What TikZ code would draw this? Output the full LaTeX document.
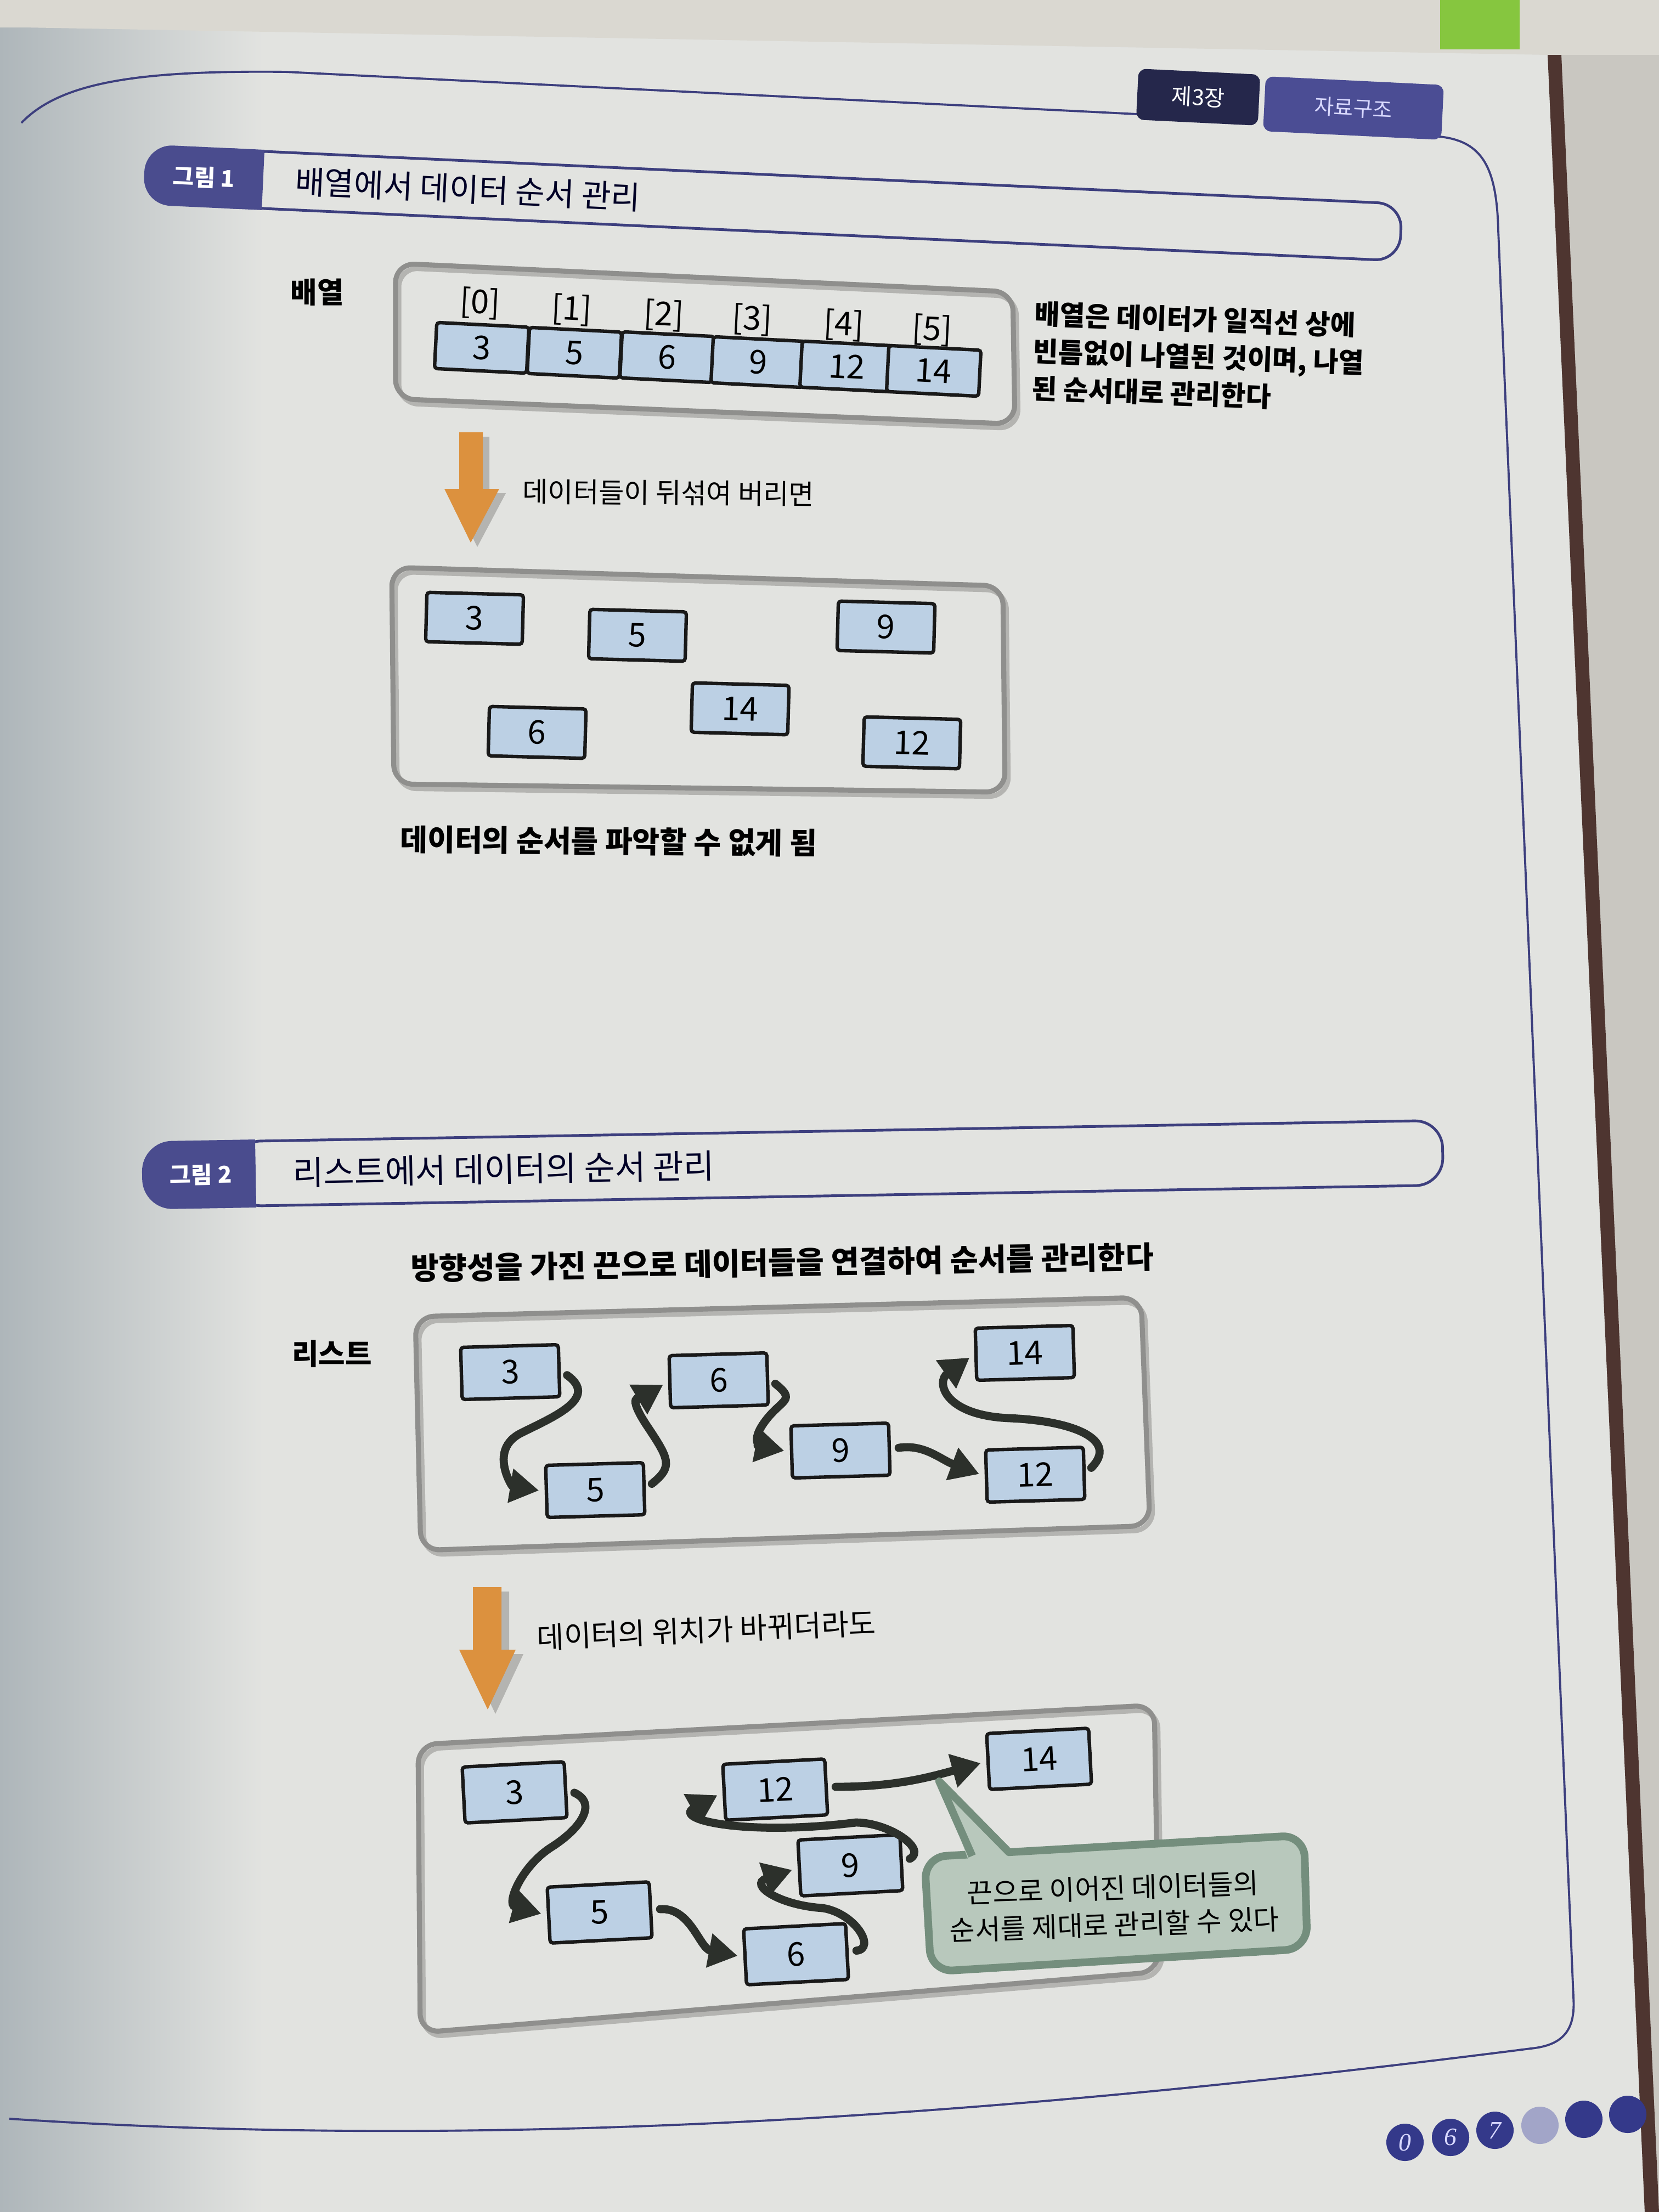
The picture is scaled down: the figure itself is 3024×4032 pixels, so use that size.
\documentclass[tikz,border=0pt]{standalone}
\usepackage{fontspec}
\setmainfont{Noto Sans CJK KR}
\newfontfamily\pagenumfont{Liberation Serif}
\usetikzlibrary{arrows.meta}

\definecolor{pagebg}{HTML}{E2E3E0}
\definecolor{topbg}{HTML}{DAD8D1}
\definecolor{outside}{HTML}{C9C7C1}
\definecolor{bookedge}{HTML}{4E3530}
\definecolor{bindgray}{HTML}{AEB6BA}
\definecolor{stickygreen}{HTML}{86C63F}
\definecolor{navyline}{HTML}{3D3F7E}
\definecolor{pillblue}{HTML}{4A4C8E}
\definecolor{tabdark}{HTML}{25274B}
\definecolor{tabblue}{HTML}{4B4D94}
\definecolor{cellblue}{HTML}{BCD0E4}
\definecolor{boxgray}{HTML}{8F8F8D}
\definecolor{boxshade}{HTML}{B4B4B1}
\definecolor{orangearrow}{HTML}{DC913E}
\definecolor{ropedark}{HTML}{2C302B}
\definecolor{notefill}{HTML}{B8C8BC}
\definecolor{noteline}{HTML}{748E7D}
\definecolor{dotblue}{HTML}{34398A}
\definecolor{dotpale}{HTML}{A2A5C8}

\begin{document}
\begin{tikzpicture}[x=0.01cm, y=-0.01cm,
    cell/.style={draw=black!90, line width=1.8pt, fill=cellblue, rounded corners=1.5pt,
      inner sep=0pt, minimum width=1.68cm, minimum height=0.84cm,
      font=\fontsize{17}{17}\selectfont},
    datum/.style={cell, minimum width=1.76cm, minimum height=0.9cm},
    outerbox/.style={draw=boxgray, line width=2.6pt, rounded corners=0.35cm},
    outershade/.style={draw=boxshade, line width=2.6pt, rounded corners=0.35cm},
    rope/.style={draw=ropedark, line width=4.2pt, line cap=round,
      -{Triangle[length=15pt,width=17pt]}, shorten <=4pt, shorten >=3pt},
    sidetag/.style={inner sep=0pt, font=\fontsize{15}{17}\selectfont\bfseries},
    remark/.style={inner sep=0pt, font=\fontsize{14.3}{18.2}\selectfont},
    idx/.style={inner sep=0pt, font=\fontsize{17}{17}\selectfont},
    bartitle/.style={inner sep=0pt, anchor=west, text=black!85!blue,
      font=\fontsize{16.6}{17}\selectfont},
    pilltext/.style={inner sep=0pt, text=white, font=\fontsize{12}{12}\selectfont\bfseries},
  ]
\useasboundingbox (0,0) rectangle (3024,4032);
\fill[pagebg] (0,0) rectangle (3024,4032);
\shade[left color=bindgray, right color=pagebg] (0,0) rectangle (480,4032);
\fill[topbg] (0,0) -- (3024,0) -- (3024,100) -- (2821,100) -- (43,50) -- (0,50) -- cycle;
\fill[stickygreen] (2625,0) rectangle (2770,90);
\fill[outside] (2821,100) -- (3024,100) -- (3024,4032) -- (2998,4032) -- cycle;
\fill[bookedge] (2821,100) -- (2846,100) -- (3024,4032) -- (2998,4032) -- cycle;

\draw[navyline, line width=1.1pt] (39,224) .. controls (110,150) and (250,128) .. (521,131) -- (2073,208);
\draw[navyline, line width=1.1pt] (2560,244) -- (2610,248) .. controls (2700,252) and (2728,300) .. (2731,420)
  -- (2868,3640) .. controls (2872,3700) and (2850,3728) .. (2790,3734)
  .. controls (1800,3860) and (900,3920) .. (17,3862);
\node[fill=tabdark, rounded corners=4pt, rotate=-2.8, minimum width=2.22cm, minimum height=0.93cm,
  text=white, font=\fontsize{11.5}{12}\selectfont] (chap) at (2184,177) {제3장};
\node[fill=tabblue, rounded corners=4pt, rotate=-2.8, minimum width=3.25cm, minimum height=1cm,
  text=white!85!blue, font=\fontsize{11}{11}\selectfont] (topic) at (2467,197) {자료구조};

\begin{scope}[shift={(482,276)}, rotate=-2.64, transform shape]
  \draw[navyline, line width=1.4pt, rounded corners=0.45cm] (-40,0) rectangle (2076,104);
  \fill[pillblue, rounded corners=0.5cm] (-217,-3) rectangle (0,107);
  \fill[pillblue] (-60,-3) rectangle (0,107);
  \node[pilltext] (fig1) at (-108,52) {그림 1};
  \node[bartitle] (title1) at (58,52) {배열에서 데이터 순서 관리};
\end{scope}

\node[sidetag] (arrtag) at (578,533) {배열};
\draw[outershade, shift={(6,8)}] (721,480) -- (1846,532) -- (1850,773) -- (721,727) -- cycle;
\draw[outerbox] (721,480) -- (1846,532) -- (1850,773) -- (721,727) -- cycle;
\node[idx, rotate=-2.9] (i0) at (875,553) {[0]};
\node[idx, rotate=-2.9] (i1) at (1042,565) {[1]};
\node[idx, rotate=-2.9] (i2) at (1210,575) {[2]};
\node[idx, rotate=-2.9] (i3) at (1371,583) {[3]};
\node[idx, rotate=-2.9] (i4) at (1538,593) {[4]};
\node[idx, rotate=-2.9] (i5) at (1699,602) {[5]};
\node[cell, rotate=-2.9] (c0) at (878,634) {3};
\node[cell, rotate=-2.9] (c1) at (1047,643) {5};
\node[cell, rotate=-2.9] (c2) at (1216,651) {6};
\node[cell, rotate=-2.9] (c3) at (1382,660) {9};
\node[cell, rotate=-2.9] (c4) at (1544,668) {12};
\node[cell, rotate=-2.9] (c5) at (1702,676) {14};
\node[anchor=north west, align=left, inner sep=0pt, rotate=-2,
  font=\fontsize{14.2}{19.3}\selectfont\bfseries] (arrnote) at (1886,548)
  {배열은 데이터가 일직선 상에\\빈틈없이 나열된 것이며, 나열\\된 순서대로 관리한다};

\fill[boxshade, shift={(12,8)}] (837,788) -- (880,788) -- (880,891) -- (910,891) -- (858,989) -- (810,891) -- (837,891) -- cycle;
\fill[orangearrow] (837,788) -- (880,788) -- (880,891) -- (910,891) -- (858,989) -- (810,891) -- (837,891) -- cycle;
\node[remark, anchor=west, rotate=-0.5] (mixup) at (952,896) {데이터들이 뒤섞여 버리면};

\draw[outershade, shift={(6,8)}] (714,1034) -- (1828,1068) -- (1832,1444) -- (718,1429) -- cycle;
\draw[outerbox] (714,1034) -- (1828,1068) -- (1832,1444) -- (718,1429) -- cycle;
\node[datum, rotate=-1.5] (s3) at (865,1127) {3};
\node[datum, rotate=-1.5] (s5) at (1162,1158) {5};
\node[datum, rotate=-1.5] (s9) at (1615,1143) {9};
\node[datum, rotate=-1.5] (s14) at (1349,1292) {14};
\node[datum, rotate=-1.5] (s6) at (979,1335) {6};
\node[datum, rotate=-1.5] (s12) at (1662,1354) {12};
\node[anchor=west, inner sep=0pt, rotate=-0.5, font=\fontsize{15.4}{16}\selectfont\bfseries] (lost)
  at (729,1530) {데이터의 순서를 파악할 수 없게 됨};

\begin{scope}[shift={(465,2080)}, rotate=1.0, transform shape]
  \draw[navyline, line width=1.4pt, rounded corners=0.5cm] (-40,0) rectangle (2164,118);
  \fill[pillblue, rounded corners=0.55cm] (-207,-3) rectangle (0,121);
  \fill[pillblue] (-60,-3) rectangle (0,121);
  \node[pilltext] (fig2) at (-100,59) {그림 2};
  \node[bartitle, font=\fontsize{17.3}{18}\selectfont] (title2) at (67,59) {리스트에서 데이터의 순서 관리};
\end{scope}

\node[anchor=west, inner sep=0pt, rotate=0.9, font=\fontsize{15.8}{17}\selectfont\bfseries] (howto)
  at (748,2312) {방향성을 가진 끈으로 데이터들을 연결하여 순서를 관리한다};
\node[sidetag] (listtag) at (605,2468) {리스트};
\draw[outershade, shift={(6,8)}] (757,2400) -- (2080,2365) -- (2096,2781) -- (767,2826) -- cycle;
\draw[outerbox] (757,2400) -- (2080,2365) -- (2096,2781) -- (767,2826) -- cycle;
\node[datum, rotate=1.6, minimum width=1.78cm, minimum height=0.95cm] (p3) at (930,2501) {3};
\node[datum, rotate=1.6, minimum width=1.78cm, minimum height=0.95cm] (p5) at (1085,2716) {5};
\node[datum, rotate=1.6, minimum width=1.78cm, minimum height=0.95cm] (p6) at (1310,2516) {6};
\node[datum, rotate=1.6, minimum width=1.78cm, minimum height=0.95cm] (p9) at (1532,2644) {9};
\node[datum, rotate=1.6, minimum width=1.78cm, minimum height=0.95cm] (p12) at (1887,2688) {12};
\node[datum, rotate=1.6, minimum width=1.78cm, minimum height=0.95cm] (p14) at (1868,2466) {14};
\draw[rope] (p3.east) .. controls +(70,50) and +(60,-30) .. (950,2612) .. controls +(-60,30) and +(-60,-10) .. (p5.west);
\draw[rope] (p5.east) .. controls +(50,-40) and +(40,60) .. (1180,2600) .. controls +(-40,-60) and +(-50,30) .. (p6.west);
\draw[rope] (p6.east) .. controls +(50,40) and +(30,-40) .. (1395,2590) .. controls +(-30,40) and +(-50,-10) .. (p9.west);
\draw[rope] (p9.east) .. controls +(60,-10) and +(-80,-30) .. (p12.west);
\draw[rope] (p12.east) .. controls +(60,-60) and +(120,5) .. (1840,2585) .. controls +(-120,-5) and +(-70,50) .. (p14.west);

\fill[boxshade, shift={(14,8)}] (862,2893) -- (914,2893) -- (914,3007) -- (940,3007) -- (889,3116) -- (837,3007) -- (862,3007) -- cycle;
\fill[orangearrow] (862,2893) -- (914,2893) -- (914,3007) -- (940,3007) -- (889,3116) -- (837,3007) -- (862,3007) -- cycle;
\node[remark, anchor=west, rotate=2.5, font=\fontsize{15.3}{17}\selectfont] (moved) at (978,2985) {데이터의 위치가 바뀌더라도};

\draw[outershade, shift={(6,8)}] (762,3180) -- (2104,3108) -- (2112,3594) -- (766,3705) -- cycle;
\draw[outerbox] (762,3180) -- (2104,3108) -- (2112,3594) -- (766,3705) -- cycle;
\node[datum, rotate=3, minimum width=1.86cm, minimum height=1.02cm] (q3) at (938,3267) {3};
\node[datum, rotate=3, minimum width=1.86cm, minimum height=1.02cm] (q5) at (1093,3486) {5};
\node[datum, rotate=3, minimum width=1.86cm, minimum height=1.02cm] (q6) at (1451,3562) {6};
\node[datum, rotate=3, minimum width=1.86cm, minimum height=1.02cm] (q9) at (1550,3400) {9};
\node[datum, rotate=3, minimum width=1.86cm, minimum height=1.02cm] (q12) at (1413,3262) {12};
\node[datum, rotate=3, minimum width=1.86cm, minimum height=1.02cm] (q14) at (1894,3206) {14};
\draw[rope] (q3.east) .. controls +(55,25) and +(55,-35) .. (1005,3367) .. controls +(-55,35) and +(-75,-20) .. (q5.west);
\draw[rope] (q5.east) .. controls +(70,-5) and +(-80,-15) .. (q6.west);
\draw[rope] (q6.east) .. controls +(50,-5) and +(60,10) .. (1500,3478) .. controls +(-80,-5) and +(-90,30) .. (q9.west);
\draw[rope] (q9.east) .. controls +(45,-25) and +(60,0) .. (1560,3322) .. controls +(-200,25) and +(-90,50) .. (q12.west);
\draw[rope] (q12.east) .. controls +(120,0) and +(-110,30) .. (q14.west);

\draw[draw=noteline, fill=notefill, line width=4pt, rounded corners=0.4cm]
  (1685,3385) -- (2377,3345) -- (2383,3552) -- (1697,3594) -- cycle;
\fill[notefill] (1768,3398) -- (1712,3247) -- (1845,3392) -- cycle;
\draw[noteline, line width=4pt, line join=round] (1772,3383) -- (1712,3247) -- (1840,3377);
\node[remark, align=center, rotate=2, font=\fontsize{14.3}{19}\selectfont] (tipnote) at (2030,3475)
  {끈으로 이어진 데이터들의\\순서를 제대로 관리할 수 있다};

\fill[dotblue] (2561,3905) circle[radius=0.34cm];
\fill[dotblue] (2644,3896) circle[radius=0.34cm];
\fill[dotblue] (2725,3883) circle[radius=0.34cm];
\fill[dotpale] (2807,3874) circle[radius=0.34cm];
\fill[dotblue] (2887,3863) circle[radius=0.34cm];
\fill[dotblue] (2967,3854) circle[radius=0.34cm];
\node[text=white!85!blue, font=\fontsize{13}{13}\selectfont\pagenumfont\itshape] (n0) at (2561,3905) {0};
\node[text=white!85!blue, font=\fontsize{13}{13}\selectfont\pagenumfont\itshape] (n6) at (2644,3896) {6};
\node[text=white!85!blue, font=\fontsize{13}{13}\selectfont\pagenumfont\itshape] (n7) at (2725,3883) {7};
\end{tikzpicture}
\end{document}
